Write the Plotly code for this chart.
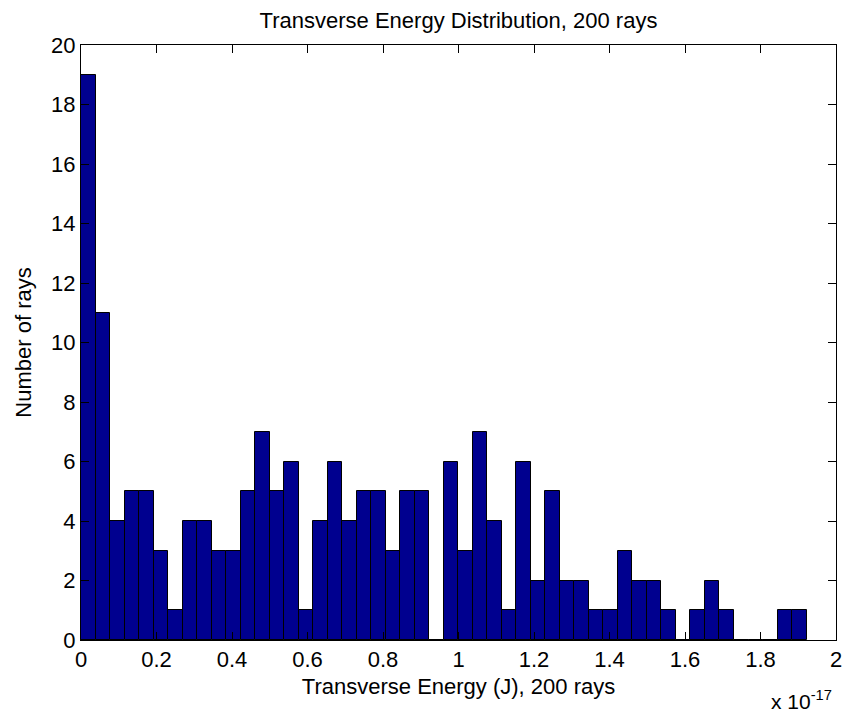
import numpy as np
import plotly.graph_objects as go

# Histogram counts (50 bins), energies in units of 1e-17 J
counts = [19, 11, 4, 5, 5, 3, 1, 4, 4, 3,
          3, 5, 7, 5, 6, 1, 4, 6, 4, 5,
          5, 3, 5, 5, 0, 6, 3, 7, 4, 1,
          6, 2, 5, 2, 2, 1, 1, 3, 2, 2,
          1, 0, 1, 2, 1, 0, 0, 0, 1, 1]
bin_min = 0.0      # x 1e-17 J
bin_max = 1.922    # x 1e-17 J
x_ticks = [0, 0.2, 0.4, 0.6, 0.8, 1.0, 1.2, 1.4, 1.6, 1.8, 2.0]
y_ticks = [0, 2, 4, 6, 8, 10, 12, 14, 16, 18, 20]

edges = np.linspace(bin_min, bin_max, len(counts) + 1)
centers = (edges[:-1] + edges[1:]) / 2
width = edges[1] - edges[0]

FONT = "Liberation Sans"
FS = 22

fig = go.Figure(go.Bar(
    x=centers, y=counts, width=width,
    marker=dict(color="#00008F", line=dict(color="black", width=1)),
    hoverinfo="x+y",
))

fig.update_layout(
    width=843, height=714,
    margin=dict(l=81, r=7, t=45, b=74, autoexpand=False),
    paper_bgcolor="white", plot_bgcolor="white",
    bargap=0,
    showlegend=False,
    font=dict(family=FONT, size=FS, color="black"),
    title=dict(text="Transverse Energy Distribution, 200 rays",
               x=(81 + 836) / 2 / 843, xanchor="center",
               y=1 - 20 / 714, yanchor="middle",
               font=dict(family=FONT, size=FS, color="black")),
    xaxis=dict(range=[0, 2], tickvals=x_ticks, ticktext=[f"{v:g}" for v in x_ticks],
               ticks="inside", ticklen=8, tickcolor="black", tickwidth=1,
               showline=True, linecolor="black", linewidth=1, mirror="ticks",
               showgrid=False, zeroline=False, automargin=False,
               tickfont=dict(family=FONT, size=FS),
               title=dict(text="Transverse Energy (J), 200 rays", standoff=7,
                          font=dict(family=FONT, size=FS))),
    yaxis=dict(range=[0, 20], tickvals=y_ticks,
               ticks="inside", ticklen=8, tickcolor="black", tickwidth=1,
               showline=True, linecolor="black", linewidth=1, mirror="ticks",
               showgrid=False, zeroline=False, automargin=False,
               tickfont=dict(family=FONT, size=FS),
               title=dict(text="Number of rays", standoff=13,
                          font=dict(family=FONT, size=FS))),
    annotations=[dict(text="x 10<sup>-17</sup>", xref="paper", yref="paper",
                      x=0.997, xanchor="right", y=-0.101, yanchor="middle",
                      showarrow=False, font=dict(family=FONT, size=21))],
)

fig.write_html("out.html")
